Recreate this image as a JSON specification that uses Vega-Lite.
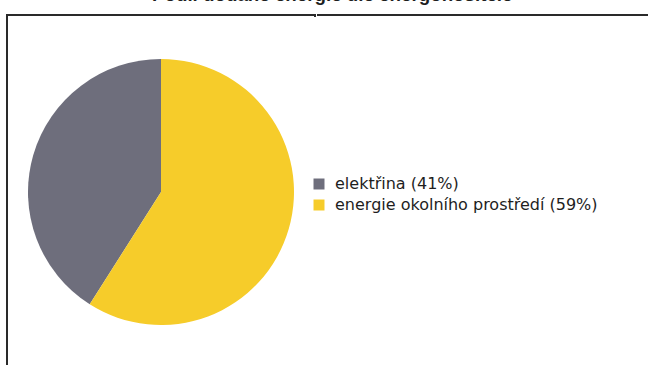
{
  "$schema": "https://vega.github.io/schema/vega-lite/v6.json",
  "padding": {"left": 6, "top": -14, "right": 0, "bottom": 0},
  "background": "#ffffff",
  "title": {
    "text": "Podíl dodané energie dle energonositele",
    "font": "Liberation Sans",
    "fontSize": 18.75,
    "fontWeight": "bold",
    "color": "#1e1e1e",
    "anchor": "start",
    "dx": 146,
    "offset": 9
  },
  "spacing": 0,
  "hconcat": [
    {
      "width": 308,
      "height": 354,
      "view": {"stroke": "#2a2a2a", "strokeWidth": 2, "strokeDash": [310, 660, 400]},
      "data": {
        "values": [
          {"kategorie": "elektřina (41%)", "podil": 41},
          {"kategorie": "energie okolního prostředí (59%)", "podil": 59}
        ]
      },
      "mark": {"type": "arc", "outerRadius": 133},
      "encoding": {
        "theta": {"field": "podil", "type": "quantitative", "stack": true},
        "order": {"field": "kategorie", "sort": "descending"},
        "color": {
          "field": "kategorie",
          "type": "nominal",
          "scale": {"domain": ["elektřina (41%)", "energie okolního prostředí (59%)"], "range": ["#6e6e7c", "#f6cc2a"]},
          "legend": {
            "title": null,
            "orient": "none",
            "legendX": 304,
            "legendY": 161,
            "symbolType": "square",
            "symbolSize": 121,
            "symbolStrokeWidth": 0,
            "symbolOpacity": 1,
            "labelFont": "DejaVu Sans",
            "labelFontSize": 16,
            "labelColor": "#1e1e1e",
            "labelOffset": 8,
            "rowPadding": 5,
            "labelLimit": 400
          }
        }
      }
    },
    {
      "width": 340,
      "height": 354,
      "view": {"stroke": "#2a2a2a", "strokeWidth": 2, "strokeDash": [340, 3000]},
      "data": {"values": []},
      "mark": "text",
      "encoding": {}
    }
  ]
}
